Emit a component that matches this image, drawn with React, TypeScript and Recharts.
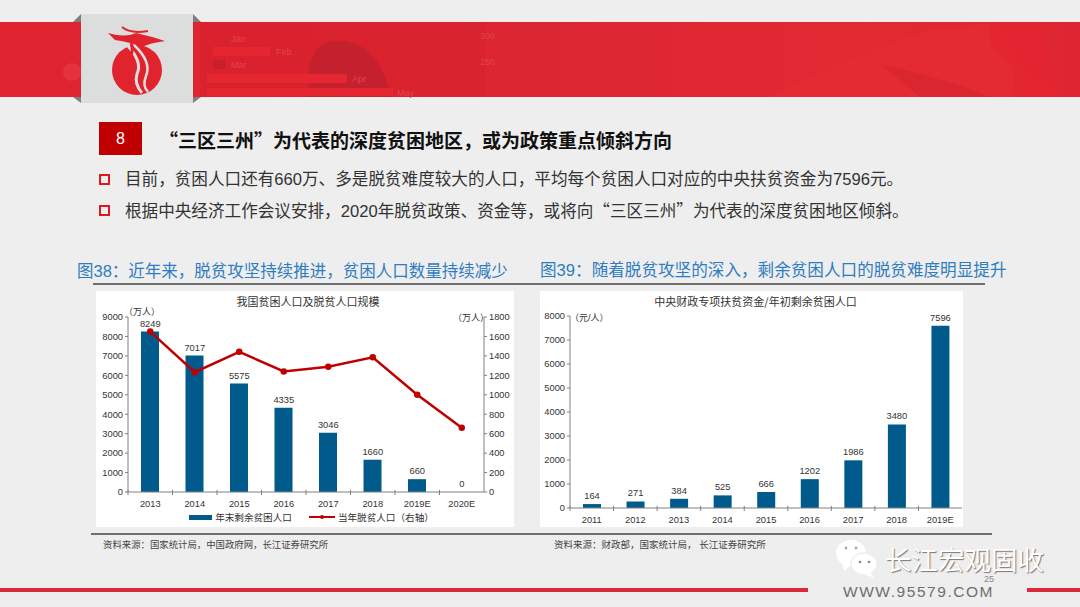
import { Bar, ComposedChart, LabelList, Legend, Line, XAxis, YAxis } from "recharts"

const years38 = ["2013", "2014", "2015", "2016", "2017", "2018", "2019E", "2020E"]
const remaining = [8249, 7017, 5575, 4335, 3046, 1660, 660, 0]
const lifted = [1650, 1232, 1442, 1240, 1289, 1386, 1000, 660]
const leftTicks38 = [0, 1000, 2000, 3000, 4000, 5000, 6000, 7000, 8000, 9000]
const rightTicks38 = [0, 200, 400, 600, 800, 1000, 1200, 1400, 1600, 1800]

const years39 = ["2011", "2012", "2013", "2014", "2015", "2016", "2017", "2018", "2019E"]
const funding = [164, 271, 384, 525, 666, 1202, 1986, 3480, 7596]
const ticks39 = [0, 1000, 2000, 3000, 4000, 5000, 6000, 7000, 8000]

const data38 = years38.map((year, i) => ({ year, remaining: remaining[i], lifted: lifted[i] }))
const data39 = years39.map((year, i) => ({ year, funding: funding[i] }))

const SANS = '"Liberation Sans", "Noto Sans CJK SC", sans-serif'
const CJK = '"Noto Sans CJK SC", sans-serif'
const BLUE = "#005a8c"
const RED = "#c00000"
const AXIS = "#808080"
const tickFont = { fontSize: 9.3, fill: "#333", fontFamily: SANS }

// excel style x axis: tick marks sit between the categories
const boundaryTick = (band: number) => (props: any) => {
  const { x, y, payload } = props
  return (
    <g>
      <line x1={x - band / 2} x2={x - band / 2} y1={y - 10} y2={y - 5} stroke={AXIS} />
      <text x={x} y={y + 7} textAnchor="middle" {...tickFont}>{payload.value}</text>
    </g>
  )
}

const legend38 = (props: any) => (
  <div style={{ display: "flex", justifyContent: "center", height: 20, alignItems: "center", fontSize: 9.6, color: "#333", fontFamily: SANS, paddingLeft: 30 }}>
    {(props.payload || []).filter((p: any) => p.value !== "remaining").map((p: any) => (
      <div key={p.value} style={{ display: "flex", alignItems: "center", marginRight: 17 }}>
        {p.type === "line" ? (
          <svg width={26} height={6} style={{ marginRight: 3 }}>
            <line x1={0} x2={26} y1={3} y2={3} stroke={RED} strokeWidth={2} />
            <circle cx={13} cy={3} r={2} fill={RED} />
          </svg>
        ) : (
          <div style={{ width: 23, height: 5, background: BLUE, marginRight: 3 }} />
        )}
        {p.value}
      </div>
    ))}
  </div>
)

function Abs({ x, y, size, color = "#333", weight, spacing, children, style }: any) {
  return (
    <div style={{ position: "absolute", left: x, top: y, fontSize: size, color, fontWeight: weight, letterSpacing: spacing, lineHeight: 1, whiteSpace: "nowrap", fontFamily: SANS, ...style }}>
      {children}
    </div>
  )
}

function Rect({ x, y, w, h, bg, style }: any) {
  return <div style={{ position: "absolute", left: x, top: y, width: w, height: h, background: bg, ...style }} />
}

const ghost = { fontSize: 9, fill: "#e6434b", fontFamily: SANS }

function Header() {
  return (
    <svg width={1080} height={110} style={{ position: "absolute", left: 0, top: 0 }}>
      <defs>
        <linearGradient id="band" x1="0" x2="1" y1="0" y2="0">
          <stop offset="0" stopColor="#df2430" />
          <stop offset="0.5" stopColor="#dc2632" />
          <stop offset="0.8" stopColor="#e22a33" />
          <stop offset="1" stopColor="#de2632" />
        </linearGradient>
      </defs>
      <rect x={0} y={22} width={1080} height={75} fill="url(#band)" />
      <rect x={200} y={22} width={285} height={75} fill="#d5202c" opacity={0.5} />
      <path d="M308 97 Q305 45 332 41 Q368 38 384 75 L392 97 Z" fill="#c4202d" />
      <rect x={213} y={47} width={57} height={9} fill="#e62630" />
      <rect x={213} y={60} width={13} height={9} fill="#c81f2a" />
      <rect x={207} y={74} width={140} height={9} fill="#e62630" />
      <rect x={207} y={88} width={186} height={8} fill="#e62630" />
      <path d="M770 97 Q830 65 930 30 L1000 22 L1020 60 L1060 97 Z" fill="#e62c35" opacity={0.7} />
      <path d="M880 64 Q950 80 990 97 L920 97 Z" fill="#d0222c" opacity={0.55} />
      <path d="M990 22 L1040 22 L1060 97 L1010 97 Q1025 70 990 45 Z" fill="#e22630" opacity={0.9} />
      <circle cx={72} cy={72} r={9} fill="#e8404a" opacity={0.5} />
      <text x={231} y={42} {...ghost}>Jan</text>
      <text x={276} y={55} {...ghost}>Feb</text>
      <text x={231} y={68} {...ghost}>Mar</text>
      <text x={352} y={82} {...ghost}>Apr</text>
      <text x={397} y={96} {...ghost}>May</text>
      <text x={480} y={39} {...ghost}>300</text>
      <text x={480} y={65} {...ghost}>250</text>
      <path d="M81 14 L73 22 L81 22 Z M193 14 L201 22 L193 22 Z M81 103 L73 97 L81 97 Z M193 103 L201 97 L193 97 Z" fill="#7f7f7f" />
      <rect x={81} y={14} width={112} height={89} fill="#dcdddd" />
      <circle cx={137} cy={70} r={25} fill="#e1232e" />
      <path d="M127 45 Q143 62 137 74 Q134 84 142 93" stroke="#dcdddd" strokeWidth={3} fill="none" />
      <path d="M134 45 Q152 62 146 76 Q142 86 148 92" stroke="#dcdddd" strokeWidth={2.5} fill="none" />
      <path d="M108 33 Q125 38 136 33 Q150 36 165 41 Q150 43 142 47 Q130 42 115 40 Z" fill="#e1232e" />
      <path d="M122 27 Q130 34 148 31" stroke="#e1232e" strokeWidth={2} fill="none" />
      <path d="M131 43 Q134 50 130 58" stroke="#e1232e" strokeWidth={3} fill="none" />
    </svg>
  )
}

function Bullet({ y }: { y: number }) {
  return <div style={{ position: "absolute", left: 99, top: y, width: 7, height: 7, border: "2.5px solid #e2161f" }} />
}

function Watermark() {
  return (
    <>
      <svg width={46} height={44} style={{ position: "absolute", left: 834, top: 537 }}>
        <ellipse cx={17} cy={16} rx={15} ry={13} fill="#fff" />
        <path d="M8 25 L10 34 L18 27 Z" fill="#fff" />
        <ellipse cx={30} cy={27} rx={13} ry={11} fill="#fff" stroke="#eee" strokeWidth={1.5} />
        <path d="M36 35 L40 41 L30 37 Z" fill="#fff" />
        <circle cx={12} cy={11} r={1.4} fill="#aaa" />
        <circle cx={22} cy={11} r={1.4} fill="#aaa" />
        <circle cx={26} cy={25} r={1.3} fill="#888" />
        <circle cx={35} cy={25} r={1.3} fill="#888" />
      </svg>
      <Abs x={885} y={546} size={26.5} color="#fff" style={{ textShadow: "1px 1px 1px #777", fontFamily: CJK }}>长江宏观固收</Abs>
      <Abs x={843} y={584} size={15.5} color="#6f6f6f" spacing={1.55}>WWW.95579.COM</Abs>
      <Abs x={984} y={575} size={9} color="#888">25</Abs>
    </>
  )
}

const Q = ({ children }: any) => <span style={{ fontFamily: CJK }}>{children}</span>

export default function App() {
  return (
    <div style={{ position: "absolute", left: 0, top: 0, width: 1080, height: 607, background: "#eeeeee", overflow: "hidden", fontFamily: SANS }}>
      <Header />

      <Rect x={99} y={122} w={43} h={33} bg="#c00000" />
      <Abs x={99} y={131} size={16} color="#fff" style={{ width: 43, textAlign: "center" }}>8</Abs>
      <Abs x={159} y={130} size={19} color="#111" weight={700} style={{ fontFamily: CJK }}>“三区三州”为代表的深度贫困地区，或为政策重点倾斜方向</Abs>

      <Bullet y={174} />
      <Abs x={125} y={172} size={16.6} color="#333">目前，贫困人口还有660万、多是脱贫难度较大的人口，平均每个贫困人口对应的中央扶贫资金为7596元。</Abs>
      <Bullet y={205} />
      <Abs x={125} y={202} size={16.6} color="#333">根据中央经济工作会议安排，2020年脱贫政策、资金等，或将向<Q>“</Q>三区三州<Q>”</Q>为代表的深度贫困地区倾斜。</Abs>

      <Abs x={77} y={263} size={16.5} color="#2f7dc1">图38：近年来，脱贫攻坚持续推进，贫困人口数量持续减少</Abs>
      <Abs x={540} y={263} size={16.6} color="#2f7dc1">图39：随着脱贫攻坚的深入，剩余贫困人口的脱贫难度明显提升</Abs>
      <Rect x={93} y={283} w={892} h={1.5} bg="#6e6e6e" />

      <Rect x={96} y={291} w={418} h={236} bg="#fff" />
      <Rect x={540} y={291} w={423} h={236} bg="#fff" />

      <div style={{ position: "absolute", left: 96, top: 291 }}>
        <ComposedChart width={418} height={236} data={data38} margin={{ top: 26, right: 0, bottom: 0, left: 0 }}>
          <XAxis dataKey="year" height={15} interval={0} tick={boundaryTick(356 / 8)} tickLine={false} stroke={AXIS} />
          <YAxis yAxisId="left" width={32} domain={[0, 9000]} ticks={leftTicks38} interval={0} tick={tickFont} tickSize={3} stroke={AXIS} />
          <YAxis yAxisId="right" orientation="right" width={30} domain={[0, 1800]} ticks={rightTicks38} interval={0} tick={tickFont} tickSize={3} stroke={AXIS} />
          <Legend verticalAlign="bottom" height={20} content={legend38} />
          <Bar yAxisId="left" dataKey="remaining" name="年末剩余贫困人口" fill={BLUE} barSize={18} isAnimationActive={false} />
          <Line yAxisId="right" dataKey="lifted" name="当年脱贫人口（右轴）" stroke={RED} strokeWidth={2.5} dot={{ r: 2, fill: RED, stroke: RED }} isAnimationActive={false} />
          {/* zero height bars lose their label, so the bar values hang off an unstroked line */}
          <Line yAxisId="left" dataKey="remaining" stroke="none" dot={false} isAnimationActive={false}>
            <LabelList dataKey="remaining" position="top" offset={5} style={tickFont} />
          </Line>
        </ComposedChart>
      </div>
      <Abs x={99} y={296} size={11} color="#333" style={{ width: 418, textAlign: "center", fontFamily: CJK }}>我国贫困人口及脱贫人口规模</Abs>
      <Abs x={124} y={308} size={9} color="#333">（万人）</Abs>
      <Abs x={453} y={314} size={9} color="#333">（万人）</Abs>

      <div style={{ position: "absolute", left: 540, top: 291 }}>
        <ComposedChart width={423} height={236} data={data39} margin={{ top: 25, right: 1, bottom: 0, left: 0 }}>
          <XAxis dataKey="year" height={19} interval={0} tick={boundaryTick(392 / 9)} tickLine={false} stroke={AXIS} />
          <YAxis width={30} domain={[0, 8000]} ticks={ticks39} interval={0} tick={tickFont} tickSize={3} stroke={AXIS} />
          <Bar dataKey="funding" fill={BLUE} barSize={18} isAnimationActive={false}>
            <LabelList dataKey="funding" position="top" offset={5} style={tickFont} />
          </Bar>
        </ComposedChart>
      </div>
      <Abs x={544} y={296} size={11} color="#333" style={{ width: 423, textAlign: "center", fontFamily: CJK }}>中央财政专项扶贫资金/年初剩余贫困人口</Abs>
      <Abs x={570} y={314} size={9} color="#333">（元/人）</Abs>

      <Rect x={91} y={533} w={901} h={1.5} bg="#6e6e6e" />
      <Abs x={103} y={540} size={9.4} color="#444">资料来源：国家统计局，中国政府网，长江证券研究所</Abs>
      <Abs x={554} y={540} size={9.5} color="#444">资料来源：财政部，国家统计局， 长江证券研究所</Abs>

      <Rect x={0} y={588} w={808} h={4} bg="#d9293a" />
      <Rect x={1027} y={588} w={53} h={4} bg="#d9293a" />
      <Watermark />
    </div>
  )
}
